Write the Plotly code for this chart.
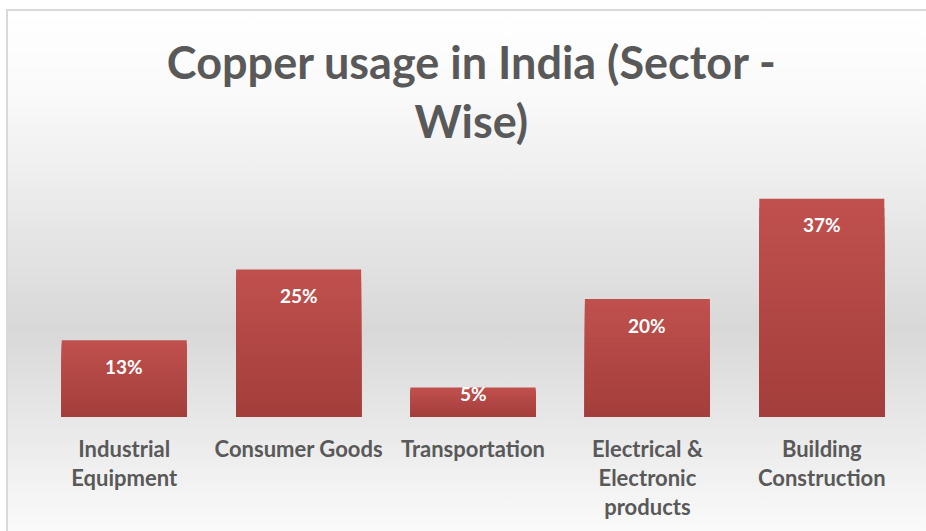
import base64
import plotly.graph_objects as go

categories = ["Industrial<br>Equipment", "Consumer Goods", "Transportation",
              "Electrical &<br>Electronic<br>products", "Building<br>Construction"]
values = [13, 25, 5, 20, 37]
labels = ["13%", "25%", "5%", "20%", "37%"]
title_text = "Copper usage in India (Sector -<br>Wise)"

W, H = 926, 531
L, R, T, B = 37, 17, 181, 114
PW, PH = W - L - R, H - T - B


def px_x(p):
    return (p - L) / PW


def px_y(p):
    return (H - B - p) / PH


# background gradient (svg data uri)
svg = '''<svg xmlns="http://www.w3.org/2000/svg" width="100" height="100" preserveAspectRatio="none">
<defs><linearGradient id="g" x1="0" y1="0" x2="0" y2="1">
<stop offset="0" stop-color="#ffffff"/>
<stop offset="0.15" stop-color="#fafafa"/>
<stop offset="0.58" stop-color="#d8d8d8"/>
<stop offset="1" stop-color="#ffffff"/>
</linearGradient></defs>
<rect width="100" height="100" fill="url(#g)"/></svg>'''
src = "data:image/svg+xml;base64," + base64.b64encode(svg.encode()).decode()

fig = go.Figure()

# bars with a vertical gradient: overlaid layers, each shorter and darker
top_rgb = (192, 80, 77)
bot_rgb = (164, 62, 60)
N = 24
for k in range(N):
    f = k / (N - 1)
    col = "rgb({},{},{})".format(*[round(a + (b - a) * f) for a, b in zip(top_rgb, bot_rgb)])
    fig.add_trace(go.Bar(
        x=categories, y=[v * (1 - k / N) for v in values],
        marker=dict(color=col, line=dict(width=0)),
        hoverinfo="skip", showlegend=False,
    ))

for c, v, t in zip(categories, values, labels):
    fig.add_annotation(x=c, y=v, text=t, showarrow=False,
                       yshift=-26 if v >= 10 else -6,
                       font=dict(family="Lato", size=19, color="white", weight="bold"))

fig.add_layout_image(dict(source=src, xref="paper", yref="paper",
                          x=px_x(7), y=px_y(10), sizex=px_x(960) - px_x(7),
                          sizey=px_y(10) - px_y(560), sizing="stretch",
                          xanchor="left", yanchor="top", layer="below"))
fig.add_shape(type="rect", xref="paper", yref="paper",
              x0=px_x(7), x1=px_x(960), y0=px_y(10), y1=px_y(560),
              line=dict(color="#d9d9d9", width=2), fillcolor="rgba(0,0,0,0)")

fig.update_layout(
    width=W, height=H,
    margin=dict(l=L, r=R, t=T, b=B),
    paper_bgcolor="white", plot_bgcolor="rgba(0,0,0,0)",
    barmode="overlay",
    bargap=0.283,
    showlegend=False,
    title=dict(text=title_text, x=0.509, xanchor="center",
               y=1 - 79 / H, yanchor="top", yref="container",
               font=dict(family="Lato", size=45, color="#595959", weight="bold")),
    xaxis=dict(showgrid=False, showline=False, zeroline=False,
               ticks="outside", ticklen=13, tickcolor="rgba(0,0,0,0)",
               tickfont=dict(family="Lato", size=22, color="#595959", weight="bold")),
    yaxis=dict(range=[0, 40], visible=False),
)

fig.write_html("out.html")
